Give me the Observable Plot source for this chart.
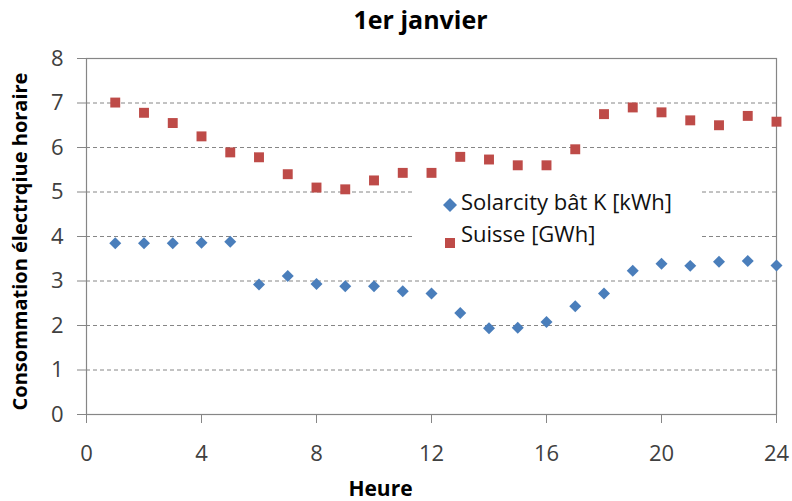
<!DOCTYPE html>
<html><head><meta charset="utf-8">
<script src="https://cdn.jsdelivr.net/npm/d3@7"></script>
<script src="https://cdn.jsdelivr.net/npm/@observablehq/plot@0.6"></script>
<style>
body{margin:0;background:#fff;}
#wrap{position:relative;width:792px;height:501px;font-family:"Open Sans",sans-serif;}
#legend{position:absolute;left:413px;top:181px;width:289px;height:65px;background:#fff;}
.item{position:absolute;font-size:22px;line-height:32px;color:#111;white-space:nowrap;}
.sym{position:absolute;}
</style>
</head><body>
<div id="wrap"></div>
<script>
const title = "1er janvier";
const xLabel = "Heure";
const yLabel = "Consommation électrqiue horaire";
const hours = [1,2,3,4,5,6,7,8,9,10,11,12,13,14,15,16,17,18,19,20,21,22,23,24];
const solarcity = [3.85,3.85,3.85,3.86,3.88,2.92,3.11,2.93,2.88,2.88,2.77,2.72,2.28,1.94,1.95,2.08,2.43,2.72,3.23,3.39,3.34,3.43,3.45,3.35];
const suisse = [7.01,6.78,6.55,6.25,5.89,5.78,5.40,5.10,5.06,5.26,5.43,5.43,5.79,5.73,5.60,5.60,5.96,6.75,6.90,6.79,6.61,6.50,6.71,6.58];
const seriesNames = ["Solarcity bât K [kWh]", "Suisse [GWh]"];
const colors = ["#4a7ebb", "#be4b48"];
const xTicks = [0,4,8,12,16,20,24];
const yTicks = [0,1,2,3,4,5,6,7,8];
const gridTicks = [1,2,3,4,5,6,7];

const solarData = hours.map((h,i) => ({h, v: solarcity[i]}));
const suisseData = hours.map((h,i) => ({h, v: suisse[i]}));

const chart = Plot.plot({
  width: 792, height: 501,
  marginTop: 58, marginBottom: 87, marginLeft: 86, marginRight: 16,
  style: {fontFamily: "'Open Sans', sans-serif", background: "#fff", color: "#404040"},
  x: {domain: [0,24]},
  y: {domain: [0,8]},
  marks: [
    Plot.ruleY(gridTicks, {stroke: "#868686", strokeDasharray: "4,3", strokeWidth: 1}),
    Plot.frame({stroke: "#868686", strokeWidth: 1.2}),
    Plot.axisX(xTicks, {tickSize: 9, tickPadding: 22, fontSize: 22, stroke: "#868686", fill: "#404040", label: null}),
    Plot.axisY(yTicks, {tickSize: 9, tickPadding: 14, fontSize: 22, stroke: "#868686", fill: "#404040", label: null}),
    Plot.dot(solarData, {x: "h", y: "v", symbol: "diamond2", r: 5.4, fill: colors[0], stroke: "none"}),
    Plot.dot(suisseData, {x: "h", y: "v", symbol: "square", r: 5.6, fill: colors[1], stroke: "none"}),
    Plot.text([title], {text: d => d, frameAnchor: "top", dy: -30, dx: -11, lineAnchor: "bottom", fontSize: 25, fontWeight: "bold", fill: "#000"}),
    Plot.text([xLabel], {text: d => d, frameAnchor: "bottom", dy: 81, dx: -51, lineAnchor: "bottom", fontSize: 21, fontWeight: "bold", fill: "#000"}),
    Plot.text([yLabel], {text: d => d, frameAnchor: "left", textAnchor: "middle", dx: -66, dy: 5, rotate: -90, lineAnchor: "middle", fontSize: 20, fontWeight: "bold", fill: "#000"})
  ]
});
const wrap = document.getElementById("wrap");
wrap.appendChild(chart);

const legend = document.createElement("div");
legend.id = "legend";
wrap.appendChild(legend);
const sqSym = `<svg width="10" height="10"><rect x="0" y="0" width="10" height="10" fill="${colors[1]}"/></svg>`;
const diSym = `<svg width="14" height="14"><path d="M7,0L14,7L7,14L0,7Z" fill="${colors[0]}"/></svg>`;
legend.innerHTML =
  `<div class="sym" style="left:${443-413}px;top:${194.5-181}px">${diSym}</div>` +
  `<div class="item" style="left:${461-413}px;top:${185-181}px">${seriesNames[0]}</div>` +
  `<div class="sym" style="left:${445-413}px;top:${231-181}px">${sqSym}</div>` +
  `<div class="item" style="left:${461-413}px;top:${217-181}px">${seriesNames[1]}</div>`;
</script>
</body></html>
